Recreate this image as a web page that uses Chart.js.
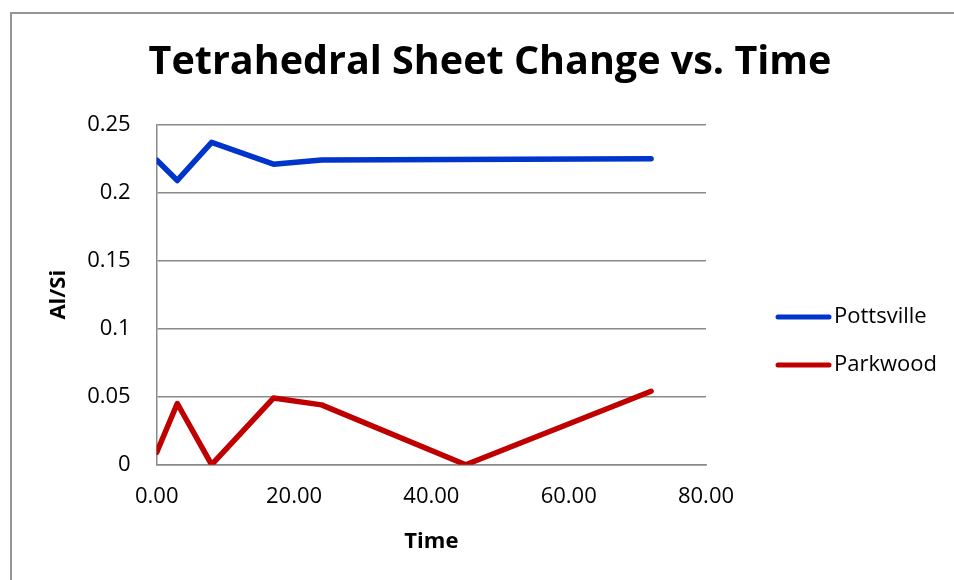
<!DOCTYPE html>
<html>
<head>
<meta charset="utf-8">
<script src="https://cdn.jsdelivr.net/npm/chart.js@4.4.1/dist/chart.umd.min.js"></script>
<style>
  html, body { margin:0; padding:0; background:#fff; overflow:hidden; }
  #wrap { position:relative; width:954px; height:580px; }
  #frame { position:absolute; left:10px; top:12px; width:2000px; height:2000px; border:2px solid #959595; box-sizing:border-box; }
  canvas { position:absolute; left:0; top:0; }
</style>
</head>
<body>
<div id="wrap">
  <div id="frame"></div>
  <canvas id="c" width="954" height="580"></canvas>
</div>
<script>
// ---- Data ----
const chartTitle = 'Tetrahedral Sheet Change vs. Time';
const xAxisTitle = 'Time';
const yAxisTitle = 'Al/Si';
const seriesNames = ['Pottsville', 'Parkwood'];
const timePottsville = [0, 3, 8, 17, 24, 72];
const pottsville = [0.224, 0.209, 0.237, 0.221, 0.224, 0.225];
const timeParkwood = [0, 3, 8, 17, 24, 45, 72];
const parkwood = [0.009, 0.045, 0, 0.049, 0.044, 0, 0.054];
const xTickLabels = ['0.00', '20.00', '40.00', '60.00', '80.00'];
const yTickLabels = ['0', '0.05', '0.1', '0.15', '0.2', '0.25'];

const FONT = "'Open Sans', 'Liberation Sans', sans-serif";
const GRID = '#8a8a8a';
const BLUE = '#0035CC';
const RED = '#C00000';

function toPoints(xs, ys) { return xs.map((x, i) => ({ x: x, y: ys[i] })); }

const overlay = {
  id: 'overlay',
  afterDraw(chart) {
    const ctx = chart.ctx;
    ctx.save();
    // Title
    ctx.fillStyle = '#000';
    ctx.font = "bold 39.5px " + FONT;
    ctx.textAlign = 'center';
    ctx.textBaseline = 'middle';
    ctx.fillText(chartTitle, 490, 63);
    // Legend
    const items = chart.data.datasets;
    const ys = [317, 365];
    items.forEach((ds, i) => {
      const y = ys[i];
      ctx.strokeStyle = ds.borderColor;
      ctx.lineWidth = 5;
      ctx.lineCap = 'round';
      ctx.beginPath();
      ctx.moveTo(778, y);
      ctx.lineTo(829, y);
      ctx.stroke();
      ctx.fillStyle = '#000';
      ctx.font = "22px " + FONT;
      ctx.textAlign = 'left';
      ctx.textBaseline = 'middle';
      ctx.fillText(ds.label, 834, y);
    });
    ctx.restore();
  }
};

new Chart(document.getElementById('c'), {
  type: 'line',
  data: {
    datasets: [
      { label: seriesNames[0], data: toPoints(timePottsville, pottsville), borderColor: BLUE, backgroundColor: BLUE,
        borderWidth: 5.5, pointRadius: 0, tension: 0, borderCapStyle: 'round', borderJoinStyle: 'round' },
      { label: seriesNames[1], data: toPoints(timeParkwood, parkwood), borderColor: RED, backgroundColor: RED,
        borderWidth: 5.5, pointRadius: 0, tension: 0, borderCapStyle: 'round', borderJoinStyle: 'round' }
    ]
  },
  options: {
    responsive: false,
    animation: false,
    devicePixelRatio: 1,
    layout: { padding: { left: 42, right: 248, top: 124.7, bottom: 21.5 } },
    plugins: { legend: { display: false }, title: { display: false }, tooltip: { enabled: false } },
    scales: {
      x: {
        type: 'linear', min: 0, max: 80,
        afterBuildTicks(s) { s.ticks = xTickLabels.map((t, i) => ({ value: i * 20 })); },
        ticks: { color: '#000', font: { family: FONT, size: 22 }, padding: 19,
                 callback: (v, i) => xTickLabels[i] },
        grid: { display: false, drawTicks: false },
        border: { display: true, color: GRID, width: 1.5 },
        title: { display: true, text: xAxisTitle, color: '#000', font: { family: FONT, size: 22, weight: 'bold' } },
        afterFit(s) { s.height = 93.8; }
      },
      y: {
        min: 0, max: 0.25,
        afterBuildTicks(s) { s.ticks = yTickLabels.map((t, i) => ({ value: i * 0.05 })); },
        ticks: { color: '#000', font: { family: FONT, size: 22 }, padding: 26,
                 callback: (v, i) => yTickLabels[i] },
        grid: { color: GRID, lineWidth: 1.5, drawTicks: false },
        border: { display: true, color: GRID, width: 1.5 },
        title: { display: true, text: yAxisTitle, color: '#000', font: { family: FONT, size: 22, weight: 'bold' } },
        afterFit(s) { s.width = 156.7 - 42; }
      }
    }
  },
  plugins: [overlay]
});
</script>
</body>
</html>
